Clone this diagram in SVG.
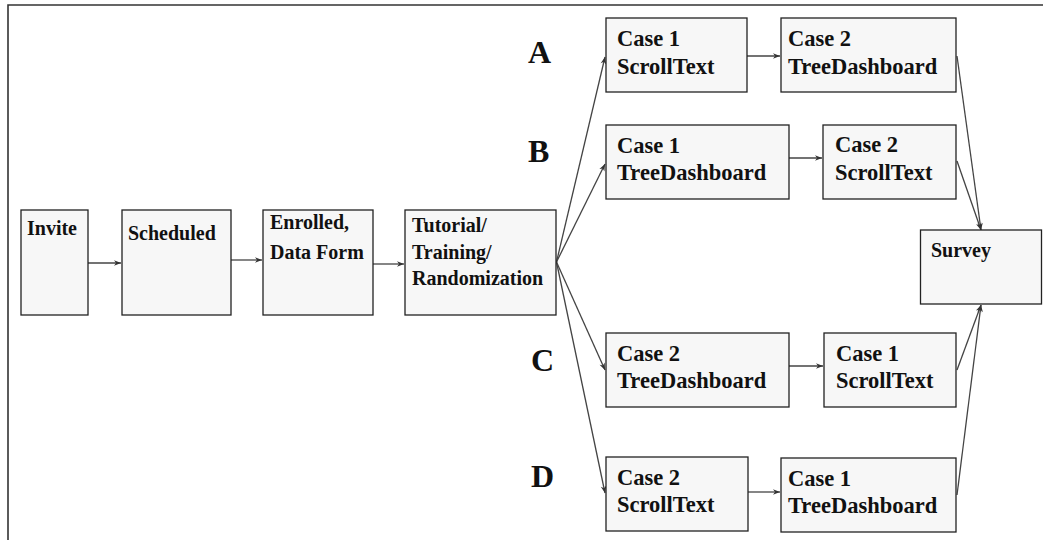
<svg xmlns="http://www.w3.org/2000/svg" width="1043" height="540" viewBox="0 0 1043 540">
<style>
.box{fill:#f7f7f7;stroke:#222;stroke-width:1.3}
.t{font-family:"Liberation Serif","Times New Roman",serif;font-weight:bold;fill:#111}
.s{font-size:20px}
.m{font-size:22.5px}
.L{font-size:32px}
.c{stroke:#444;stroke-width:1.3;fill:none;marker-end:url(#ah)}
</style>
<defs>
<marker id="ah" viewBox="0 0 10 10" refX="10" refY="5" markerWidth="8" markerHeight="7" markerUnits="userSpaceOnUse" orient="auto">
<path d="M0,1 L10,5 L0,9 L3,5 Z" fill="#333"/>
</marker>
</defs>
<rect width="1043" height="540" fill="#fff"/>
<path d="M8,540 V5 H1043" fill="none" stroke="#333" stroke-width="1.6"/>
<g id="connectors">
<line class="c" x1="88" y1="263" x2="121" y2="263"/>
<line class="c" x1="231" y1="260" x2="262" y2="260"/>
<line class="c" x1="373" y1="264" x2="404" y2="264"/>
<line class="c" x1="556.5" y1="262" x2="605" y2="57"/>
<line class="c" x1="556.5" y1="262" x2="605" y2="164"/>
<line class="c" x1="556.5" y1="262" x2="605" y2="370"/>
<line class="c" x1="556.5" y1="262" x2="605" y2="493"/>
<line class="c" x1="747" y1="56" x2="780" y2="56"/>
<line class="c" x1="789" y1="158" x2="822" y2="158"/>
<line class="c" x1="789" y1="366" x2="823" y2="366"/>
<line class="c" x1="748" y1="492" x2="780" y2="492"/>
<line class="c" x1="957" y1="56" x2="981" y2="230"/>
<line class="c" x1="957" y1="161" x2="981" y2="230"/>
<line class="c" x1="957" y1="370" x2="981" y2="305"/>
<line class="c" x1="957" y1="495" x2="981" y2="305"/>
</g>
<g id="invite"><rect class="box" x="21" y="210" width="67" height="105"/><text class="t s" x="27" y="235">Invite</text></g>
<g id="scheduled"><rect class="box" x="122" y="210" width="109" height="105"/><text class="t s" x="128" y="240">Scheduled</text></g>
<g id="enrolled"><rect class="box" x="263" y="210" width="110" height="105"/><text class="t s" x="270" y="229">Enrolled,</text><text class="t s" x="270" y="259">Data Form</text></g>
<g id="tutorial"><rect class="box" x="405" y="210" width="151" height="105"/><text class="t s" x="412" y="232">Tutorial/</text><text class="t s" x="412" y="259">Training/</text><text class="t s" x="412" y="285">Randomization</text></g>
<g id="labelA"><text class="t L" x="528" y="63">A</text></g>
<g id="labelB"><text class="t L" x="528" y="162">B</text></g>
<g id="labelC"><text class="t L" x="531" y="371">C</text></g>
<g id="labelD"><text class="t L" x="531" y="487">D</text></g>
<g id="a1"><rect class="box" x="606" y="18" width="141" height="74"/><text class="t m" x="617" y="46">Case 1</text><text class="t m" x="617" y="74">ScrollText</text></g>
<g id="a2"><rect class="box" x="781" y="18" width="175" height="74"/><text class="t m" x="788" y="46">Case 2</text><text class="t m" x="788" y="74">TreeDashboard</text></g>
<g id="b1"><rect class="box" x="606" y="125" width="183" height="74"/><text class="t m" x="617" y="153">Case 1</text><text class="t m" x="617" y="180">TreeDashboard</text></g>
<g id="b2"><rect class="box" x="823" y="125" width="133" height="74"/><text class="t m" x="835" y="152">Case 2</text><text class="t m" x="835" y="180">ScrollText</text></g>
<g id="c1"><rect class="box" x="606" y="333" width="183" height="74"/><text class="t m" x="617" y="361">Case 2</text><text class="t m" x="617" y="388">TreeDashboard</text></g>
<g id="c2"><rect class="box" x="824" y="333" width="132" height="74"/><text class="t m" x="836" y="361">Case 1</text><text class="t m" x="836" y="388">ScrollText</text></g>
<g id="d1"><rect class="box" x="606" y="457" width="142" height="74"/><text class="t m" x="617" y="485">Case 2</text><text class="t m" x="617" y="512">ScrollText</text></g>
<g id="d2"><rect class="box" x="781" y="458" width="175" height="74"/><text class="t m" x="788" y="486">Case 1</text><text class="t m" x="788" y="513">TreeDashboard</text></g>
<g id="survey"><rect class="box" x="920.5" y="230" width="121" height="74"/><text class="t s" x="931" y="257">Survey</text></g>
</svg>
